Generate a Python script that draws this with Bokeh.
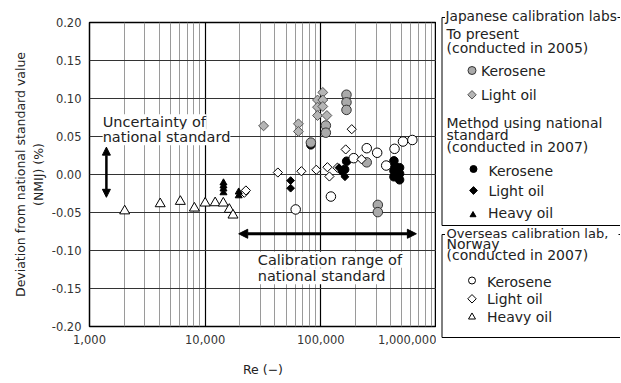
import numpy as np
from bokeh.plotting import figure
from bokeh.layouts import row
from bokeh.models import FixedTicker, NumeralTickFormatter, Range1d, Label, Arrow, NormalHead
from bokeh.embed import file_html
from bokeh.resources import INLINE

FONT = "DejaVu Sans"

# ---------------- data ----------------
# Japanese calibration labs, to present (2005)
jp05_kero_re = [82000, 110500, 110500, 166600, 166600, 166600, 249500, 311000, 311000]
jp05_kero_dev = [0.042, 0.0645, 0.055, 0.105, 0.095, 0.085, 0.016, -0.040, -0.0495]
jp05_light_re = [32000, 64000, 64000, 104000, 93600, 104000, 93600, 104000, 93600, 112800]
jp05_light_dev = [0.064, 0.0667, 0.0566, 0.108, 0.098, 0.098, 0.0886, 0.0895, 0.0776, 0.0776]

# Method using national standard (2007)
ns07_kero_re = [82000, 167000, 160700, 428600, 428600, 428600, 428600, 479700, 479700, 479700]
ns07_kero_dev = [0.039, 0.0175, 0.0066, 0.018, 0.012, 0.005, -0.003, 0.009, 0.001, -0.007]
ns07_light_re = [54800, 54800, 143500, 152300, 161700]
ns07_light_dev = [-0.008, -0.018, 0.009, 0.003, -0.003]
ns07_heavy_re = [14400, 14400, 14400, 14400, 19500, 19500]
ns07_heavy_dev = [-0.011, -0.015, -0.019, -0.024, -0.023, -0.028]

# Overseas calibration lab, Norway (2007)
no07_kero_re = [60600, 122200, 192400, 249500, 307000, 367400, 433800, 513000, 618400]
no07_kero_dev = [-0.046, -0.029, 0.0215, 0.0346, 0.0286, 0.0118, 0.0338, 0.0434, 0.0454]
no07_light_re = [21800, 22500, 42500, 67900, 91400, 114000, 118600, 139000, 164000, 185000, 225000]
no07_light_dev = [-0.024, -0.021, 0.0026, 0.0043, 0.0062, 0.0096, -0.0026, 0.009, 0.033, 0.0596, 0.020]
no07_heavy_re = [2015, 4085, 6100, 8070, 10000, 12200, 14350, 16170, 17400]
no07_heavy_dev = [-0.048, -0.0386, -0.0355, -0.0443, -0.0377, -0.0373, -0.0377, -0.046, -0.0535]

# annotations
uncert_re = 1400
uncert_top, uncert_bottom = 0.036, -0.030
calib_re_start, calib_re_end = 19500, 670000
calib_level = -0.078
uncert_text = ["Uncertainty of", "national standard"]
calib_text = ["Calibration range of", "national standard"]

x_ticks = [1000, 10000, 100000, 1000000]
x_minor = [m * 10 ** e for e in range(3, 6) for m in range(2, 10)]
y_ticks = [-0.20, -0.15, -0.10, -0.05, 0.0, 0.05, 0.10, 0.15, 0.20]

# ---------------- main chart ----------------
p = figure(frame_width=347, frame_height=304, x_axis_type="log",
           x_range=Range1d(1000, 1000000), y_range=Range1d(-0.2, 0.2),
           output_backend="svg", toolbar_location=None,
           min_border_left=89, min_border_top=22, min_border_bottom=10, min_border_right=0)
p.background_fill_color = "white"
p.border_fill_color = "white"
p.outline_line_color = "black"
p.outline_line_width = 1.5

p.xaxis.ticker = FixedTicker(ticks=x_ticks, minor_ticks=x_minor)
p.xaxis.formatter = NumeralTickFormatter(format="0,0")
p.yaxis.ticker = FixedTicker(ticks=y_ticks)
p.yaxis.formatter = NumeralTickFormatter(format="0.00")
for ax in (p.xaxis, p.yaxis):
    ax.axis_line_color = None
    ax.major_tick_line_color = None
    ax.minor_tick_line_color = None
    ax.major_tick_out = 0
    ax.major_tick_in = 0
    ax.minor_tick_out = 0
    ax.minor_tick_in = 0
    ax.major_label_text_font = FONT
    ax.major_label_text_font_size = "11.5px"
    ax.major_label_text_color = "#333333"
    ax.axis_label_text_font = FONT
    ax.axis_label_text_font_size = "12.5px"
    ax.axis_label_text_font_style = "normal"
    ax.axis_label_text_color = "#222222"
p.xaxis.major_label_standoff = 8
p.yaxis.major_label_standoff = 8
p.xaxis.axis_label = "Re (\u2212)"
p.xaxis.axis_label_standoff = 15
p.yaxis.axis_label = "Deviation from national standard value\n(NMIJ) (%)"
p.yaxis.axis_label_standoff = 3

p.xgrid.grid_line_color = "black"
p.xgrid.grid_line_width = 1.2
p.xgrid.minor_grid_line_color = "#9a9a9a"
p.xgrid.minor_grid_line_width = 1
p.ygrid.grid_line_color = "#333333"
p.ygrid.grid_line_width = 1

# points
p.scatter(ns07_kero_re, ns07_kero_dev, marker="circle", size=8.5, fill_color="black", line_color="black")
p.scatter(jp05_kero_re, jp05_kero_dev, marker="circle", size=9.5, fill_color="#aaaaaa", line_color="#333333", line_width=1)
p.scatter(jp05_light_re, jp05_light_dev, marker="square", angle=np.pi / 4, size=7, fill_color="#b5b5b5", line_color="#555555", line_width=1)
p.scatter(no07_kero_re, no07_kero_dev, marker="circle", size=9.5, fill_color="white", line_color="black", line_width=1)
p.scatter(no07_light_re, no07_light_dev, marker="square", angle=np.pi / 4, size=6.5, fill_color="white", line_color="black", line_width=1)
p.scatter(no07_heavy_re, no07_heavy_dev, marker="triangle", size=10, fill_color="white", line_color="black", line_width=1)
p.scatter(ns07_light_re, ns07_light_dev, marker="square", angle=np.pi / 4, size=5.5, fill_color="black", line_color="black")
p.scatter(ns07_heavy_re, ns07_heavy_dev, marker="triangle", size=7, fill_color="black", line_color="black")

# annotations
p.add_layout(Arrow(start=NormalHead(size=8, fill_color="black", line_color="black"),
                   end=NormalHead(size=8, fill_color="black", line_color="black"),
                   x_start=uncert_re, y_start=uncert_top, x_end=uncert_re, y_end=uncert_bottom,
                   line_width=2.5, line_color="black"))
p.add_layout(Arrow(start=NormalHead(size=9, fill_color="black", line_color="black"),
                   end=NormalHead(size=9, fill_color="black", line_color="black"),
                   x_start=calib_re_start, y_start=calib_level, x_end=calib_re_end, y_end=calib_level,
                   line_width=3, line_color="black"))
for txt_line, yv in zip(uncert_text, [0.0688, 0.0490]):
    p.add_layout(Label(x=1300, y=yv, text=txt_line, text_font=FONT, text_font_size="14.5px",
                       text_color="#222222", text_baseline="middle",
                       background_fill_color="white"))
for txt_line, yv in zip(calib_text, [-0.1122, -0.1340]):
    p.add_layout(Label(x=28500, y=yv, text=txt_line, text_font=FONT, text_font_size="14.5px",
                       text_color="#222222", text_baseline="middle",
                       background_fill_color="white"))

# ---------------- legend panel (coordinates = page pixels) ----------------
LX0 = 89 + 347
LW, LH = 184, 375
L = figure(width=LW, height=LH, x_range=Range1d(LX0, LX0 + LW), y_range=Range1d(LH, 0),
           output_backend="svg", toolbar_location=None,
           min_border_left=0, min_border_right=0, min_border_top=0, min_border_bottom=0)
for fig in (p, L):
    try:
        fig.frame_align = False
    except Exception:
        pass
L.axis.visible = False
L.grid.visible = False
L.outline_line_color = None
L.background_fill_color = None
L.border_fill_color = "white"

seg_x0 = [441.5, 441.5, 617, 441.5, 441.5, 441.5, 618, 441.5]
seg_y0 = [17, 17, 17, 225, 234, 234, 234, 337]
seg_x1 = [441.5, 444.5, 620, 620, 441.5, 444.5, 620, 620]
seg_y1 = [225, 17, 17, 225, 337, 234, 234, 337]
L.segment(x0=seg_x0, y0=seg_y0, x1=seg_x1, y1=seg_y1, line_color="black", line_width=1)

def txt(x, y, s, size="14px"):
    L.add_layout(Label(x=x, y=y, text=s, text_font=FONT, text_font_size=size,
                       text_baseline="middle", text_align="left", text_color="#222222"))

txt(445, 15, "Japanese calibration labs", "13.7px")
txt(446, 33.5, "To present")
txt(446, 47.5, "(conducted in 2005)")
txt(480.5, 70, "Kerosene")
txt(480.5, 94.3, "Light oil")
txt(446, 122.5, "Method using national")
txt(446, 134.5, "standard")
txt(446, 146.7, "(conducted in 2007)")
txt(488, 170, "Kerosene")
txt(488, 190, "Light oil")
txt(487.5, 212.7, "Heavy oil")
txt(446, 233.3, "Overseas calibration lab,", "13px")
txt(446, 243.5, "Norway")
txt(446, 254.5, "(conducted in 2007)")
txt(486.5, 281.7, "Kerosene")
txt(486.5, 298.3, "Light oil")
txt(486.5, 316, "Heavy oil")

L.scatter([471.5], [70], marker="circle", size=8, fill_color="#aaaaaa", line_color="#333333")
L.scatter([471.5], [94.3], marker="square", angle=np.pi / 4, size=6, fill_color="#b5b5b5", line_color="#555555")
L.scatter([473], [168.5], marker="circle", size=7, fill_color="black", line_color="black")
L.scatter([473], [190], marker="square", angle=np.pi / 4, size=5.5, fill_color="black", line_color="black")
L.scatter([472.5], [214.5], marker="triangle", size=6, fill_color="black", line_color="black")
L.scatter([471.5], [280], marker="circle", size=7, fill_color="white", line_color="black")
L.scatter([471.5], [298.3], marker="square", angle=np.pi / 4, size=6, fill_color="white", line_color="black")
L.scatter([471.5], [316.5], marker="triangle", size=7, fill_color="white", line_color="black")

layout = row(p, L, spacing=0)
open("out.html", "w").write(file_html(layout, INLINE))
